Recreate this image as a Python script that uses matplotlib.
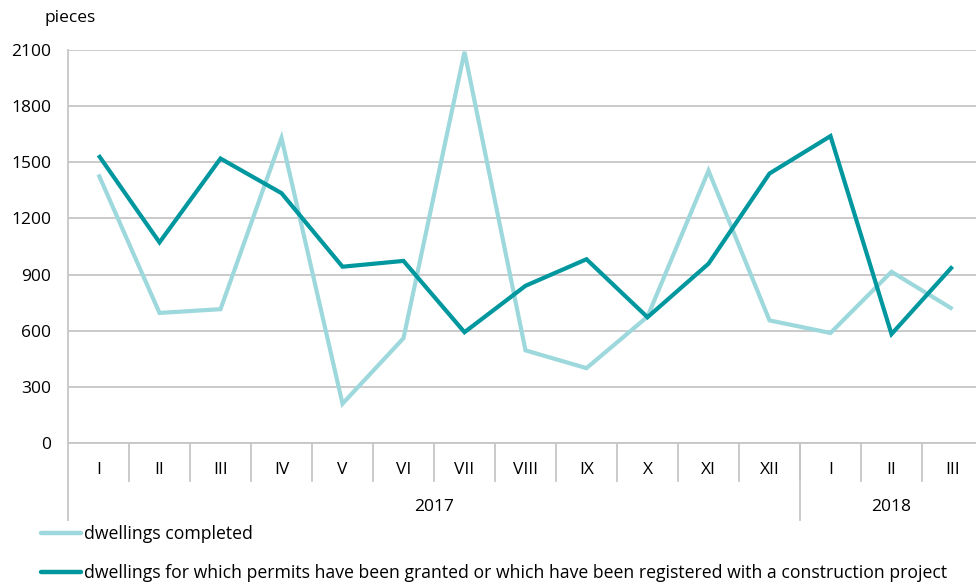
import matplotlib.pyplot as plt
from matplotlib.transforms import blended_transform_factory

months = ['I', 'II', 'III', 'IV', 'V', 'VI', 'VII', 'VIII', 'IX', 'X', 'XI', 'XII', 'I', 'II', 'III']
years = ['2017', '2018']
year_len = [12, 3]
completed = [1435, 695, 715, 1630, 210, 560, 2090, 495, 400, 675, 1455, 655, 588, 915, 716]
permits = [1538, 1072, 1520, 1335, 942, 973, 592, 840, 982, 672, 958, 1440, 1640, 582, 943]
yticks = [0, 300, 600, 900, 1200, 1500, 1800, 2100]

light = '#9dd8dc'
dark = '#00979f'
grid = '#c6c6c6'

plt.rcParams['font.family'] = ['Open Sans', 'DejaVu Sans']
fs = 12.5

fig = plt.figure(figsize=(9.76, 5.85), dpi=100)
# plot area runs a little past the right edge of the picture
ax = fig.add_axes([68 / 976, (585 - 443) / 585, (983 - 68) / 976, 393 / 585])

x = list(range(len(months)))
ax.plot(x, completed, color=light, lw=3.0, solid_joinstyle='miter', solid_capstyle='butt',
        label='dwellings completed')
ax.plot(x, permits, color=dark, lw=3.0, solid_joinstyle='miter', solid_capstyle='butt',
        label='dwellings for which permits have been granted or which have been registered with a construction project')

ax.set_xlim(-0.5, len(months) - 0.5)
ax.set_ylim(0, 2100)
ax.set_yticks(yticks)
ax.set_yticklabels([str(v) for v in yticks], fontsize=fs)
ax.tick_params(axis='y', length=0, pad=12)
ax.grid(axis='y', color=grid, lw=1.3)
ax.set_axisbelow(True)
ax.set_xticks([])
for s in ['top', 'right']:
    ax.spines[s].set_visible(False)
for s in ['left', 'bottom']:
    ax.spines[s].set_color(grid)
    ax.spines[s].set_linewidth(1.3)

# category axis: month labels, separators, year labels
tr = blended_transform_factory(ax.transData, ax.transAxes)
px = 1 / 393
for i, m in enumerate(months):
    ax.text(i, -27 * px, m, transform=tr, ha='center', va='center', fontsize=fs)
for i in range(1, len(months)):
    ax.plot([i - 0.5, i - 0.5], [0, -38 * px], transform=tr, color=grid, lw=1.3, clip_on=False)
start = 0
for yr, n in zip(years, year_len):
    ax.plot([start - 0.5, start - 0.5], [0, -77 * px], transform=tr, color=grid, lw=1.3, clip_on=False)
    ax.text(start + (n - 1) / 2, -64 * px, yr, transform=tr, ha='center', va='center', fontsize=fs)
    start += n

fig.text(44 / 976, 1 - 18 / 585, 'pieces', ha='left', va='center', fontsize=fs)

leg = fig.legend(loc='upper left', bbox_to_anchor=(32 / 976, 1 - 516 / 585), frameon=False,
                 fontsize=12.7, handlelength=2.3, handletextpad=0.12, labelspacing=1.22, borderpad=0)
for h in leg.get_lines():
    h.set_linewidth(3.2)
    h.set_solid_capstyle('round')

fig.savefig('out.png', dpi=100)
